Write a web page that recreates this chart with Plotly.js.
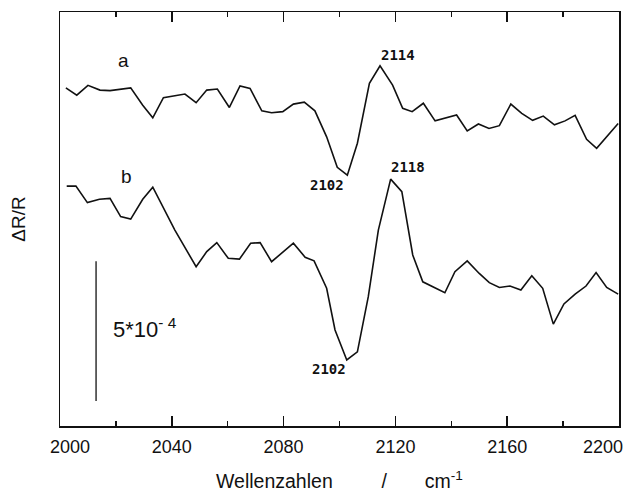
<!DOCTYPE html>
<html>
<head>
<meta charset="utf-8">
<script src="https://cdn.plot.ly/plotly-3.0.1.min.js"></script>
<style>html,body{margin:0;padding:0;background:#fff;}#chart{width:633px;height:494px;}</style>
</head>
<body>
<div id="chart"></div>
<script>
// Wavenumbers (cm^-1) and offset ΔR/R values (units of 1e-4)
const waveA = [2002.1,2006.0,2010.0,2014.3,2017.9,2025.3,2029.6,2033.2,2037.0,2044.7,2048.7,2052.5,2056.3,2060.6,2064.4,2068.0,2072.2,2075.7,2079.7,2083.5,2087.4,2091.2,2095.4,2099.2,2102.8,2104.4,2106.4,2110.7,2114.5,2119.0,2122.6,2126.0,2130.0,2134.2,2139.3,2141.9,2145.7,2149.7,2153.5,2157.2,2161.3,2165.2,2169.1,2172.9,2176.9,2180.7,2184.3,2188.4,2192.0,2199.7];
const specA = [12.08,11.82,12.17,12.00,11.98,12.08,11.46,11.01,11.73,11.86,11.55,12.00,12.04,11.38,12.15,12.06,11.26,11.19,11.23,11.50,11.57,11.26,10.33,9.24,8.96,9.44,10.10,12.24,12.87,12.18,11.35,11.23,11.53,10.90,11.05,11.11,10.54,10.79,10.63,10.73,11.50,11.17,10.92,11.07,10.76,10.90,11.10,10.24,9.92,10.81];
const waveB = [2002.4,2005.7,2009.8,2014.1,2017.9,2021.7,2025.3,2029.6,2033.2,2041.1,2048.7,2052.5,2056.1,2060.2,2064.2,2068.2,2071.6,2075.7,2083.5,2087.7,2090.9,2095.4,2098.4,2102.6,2106.4,2110.3,2113.9,2118.3,2122.3,2126.2,2129.8,2137.7,2141.3,2145.7,2150.0,2153.6,2157.2,2161.0,2164.9,2168.8,2172.7,2176.5,2180.3,2184.3,2188.2,2191.8,2195.6,2199.7];
const specB = [8.57,8.57,7.98,8.10,8.13,7.48,7.39,8.10,8.53,7.00,5.69,6.23,6.55,5.99,5.96,6.53,6.55,5.87,6.53,6.03,5.90,4.92,3.43,2.36,2.65,4.62,7.00,8.82,8.37,6.11,5.15,4.76,5.51,5.90,5.45,5.12,4.95,5.00,4.86,5.37,4.92,3.64,4.36,4.71,5.00,5.48,4.95,4.71];
// scale bar (5e-4)
const scaleX = [2012.9, 2012.9];
const scaleY = [0.89, 5.89];
// text labels
const labelText = ["a","b","2114","2102","2118","2102","5*10<sup>- 4</sup>"];
const labelX = [2022.6,2023.9,2120.8,2095.4,2124.6,2096.2,2030.4];
const labelY = [13.07,8.90,13.25,8.61,9.24,2.04,3.50];
// x tick labels; the last one (at the right frame) is drawn right-aligned to stay inside the page
const tickVals = [2000,2040,2080,2120,2160,2200];
const NB = "\u00A0";
const tickText = [NB.repeat(4)+"2000","2040","2080","2120","2160",""];
const lastTickVal = 2200;
const lastTickText = "2200";

const lineStyle = {color:'#111', width:1.6};
const traces = [
  {x:waveA, y:specA, mode:'lines', line:lineStyle, hoverinfo:'skip'},
  {x:waveB, y:specB, mode:'lines', line:lineStyle, hoverinfo:'skip'},
  {x:scaleX, y:scaleY, mode:'lines', line:{color:'#111', width:1.3}, hoverinfo:'skip'}
];
const fontSans = "Liberation Sans, Arial, sans-serif";
const fontMono = "DejaVu Sans Mono, monospace";
const annotations = labelText.map((t,i)=>{
  let f;
  if (i<2) f = {family:fontSans, size:19, color:'#111'};
  else if (i===6) f = {family:fontSans, size:22, color:'#111'};
  else f = {family:fontMono, size:14, color:'#111', weight:'bold'};
  return {x:labelX[i], y:labelY[i], text:t, showarrow:false, xanchor:'center', yanchor:'middle', font:f};
});
annotations.push({
  x:lastTickVal, xref:'x', y:0, yref:'paper', text:lastTickText, showarrow:false,
  xanchor:'right', yanchor:'middle', xshift:6, yshift:-21,
  font:{family:fontSans, size:18, color:'#111'}
});
const layout = {
  width:633, height:494,
  margin:{l:60, r:14, t:12, b:68},
  paper_bgcolor:'#fff', plot_bgcolor:'#fff',
  showlegend:false,
  xaxis:{
    range:[2000,2200], showgrid:false, zeroline:false,
    showline:true, linecolor:'#111', linewidth:1.5, mirror:'ticks',
    ticks:'inside', ticklen:10, tickwidth:1.5, tickcolor:'#111',
    tickmode:'array', tickvals:tickVals, ticktext:tickText,
    ticklabeloverflow:'allow', ticklabelstandoff:4,
    minor:{dtick:20, tick0:2000, ticks:'inside', ticklen:5, tickwidth:1.2, tickcolor:'#111', showgrid:false},
    tickfont:{family:fontSans, size:18, color:'#111'},
    title:{text:"Wellenzahlen"+NB.repeat(9)+"/"+NB.repeat(7)+"cm<sup>-1</sup>", font:{family:fontSans, size:19.5, color:'#111'}, standoff:18}
  },
  yaxis:{
    range:[0,14.79], showgrid:false, zeroline:false,
    showline:true, linecolor:'#111', linewidth:1.5, mirror:true,
    ticks:'', showticklabels:false,
    title:{text:"ΔR/R", font:{family:fontSans, size:19, color:'#111'}, standoff:28}
  },
  annotations:annotations
};
Plotly.newPlot('chart', traces, layout, {displayModeBar:false, staticPlot:true});
</script>
</body>
</html>
